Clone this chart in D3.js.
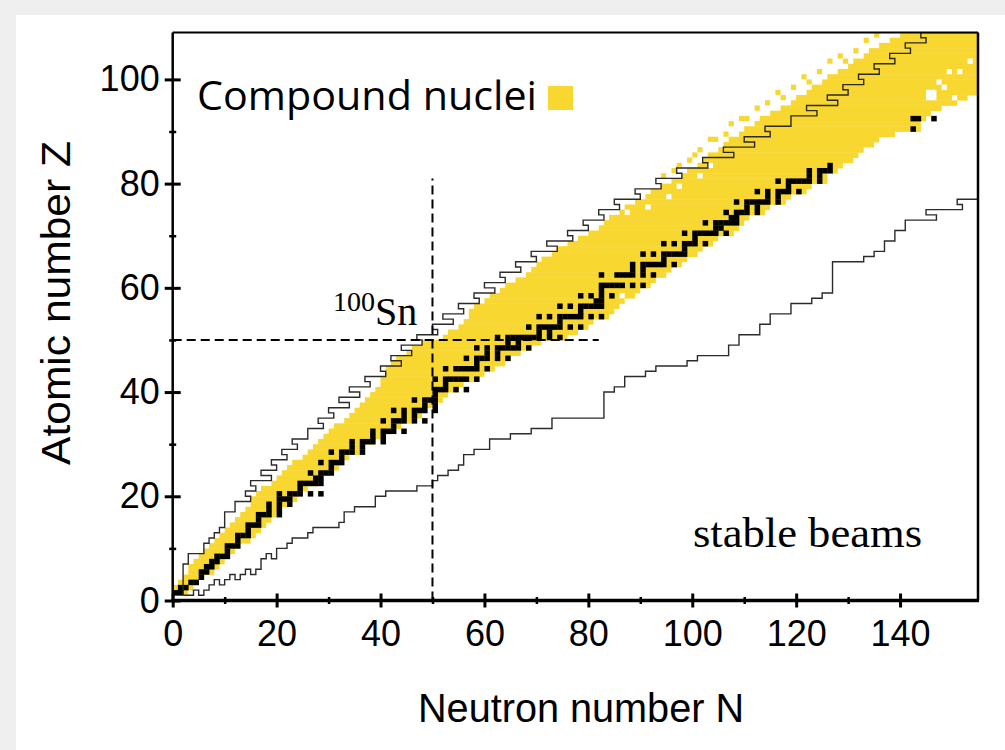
<!DOCTYPE html>
<html>
<head>
<meta charset="utf-8">
<script src="https://cdn.jsdelivr.net/npm/d3@7"></script>
<style>
  body { margin: 0; background: #efefef; }
  #chart { position: absolute; left: 0; top: 0; }
</style>
</head>
<body>
<div id="chart"></div>
<script>
// ---- data ----
// rows Z = 1..108 : yellow band (compound nuclei), first and last N of each row
var bandMinN = [0,0,1,2,3,3,4,5,6,7, 8,9,10,11,12,13,14,15,15,16,
  17,19,20,21,22,23,25,26,27,28, 29,30,31,33,34,35,36,37,38,39,
  40,40,41,41,42,43,45,46,48,52, 53,55,56,57,57,58,60,61,63,64,
  66,68,69,70,71,73,74,76,78,80, 82,83,84,86,87,89,91,92,94,96,
  98,99,101,102,103,105,106,107,109,110, 112,113,115,117,119,120,122,123,125,126,
  128,130,131,133,134,136,138,140];
var bandMaxN = [2,3,4,5,7,8,9,10,11,12, 14,15,16,17,18,19,20,21,23,24,
  25,27,28,29,31,32,33,35,36,38, 39,41,43,45,47,48,50,51,52,54,
  55,58,59,61,63,64,66,68,70,75, 77,79,80,83,84,85,86,88,89,91,
  92,94,95,97,98,100,101,103,104,107, 108,109,110,113,114,117,118,121,122,125,
  125,127,128,130,131,132,134,135,138,143, 143,144,145,147,150,152,154,155,155,155,
  155,155,155,155,155,155,155,155];
// isolated yellow cells beyond the band edge [N, Z]
var bandExtra = [[94,81],[96,82],[97,83],[99,84],[100,85],[101,86],[103,88],[104,88],[106,89],
  [107,91],[109,92],[110,92],[112,94],[114,95],[117,96],[116,97],[119,98],[122,99],[121,100],
  [124,101],[126,103],[129,103],[128,104],[131,105],[136,106],[133,107],[135,108]];
// white gaps inside the band [N, Z]
var bandHoles = [[86,58],[87,74],[91,75],[95,77],[97,79],[101,81],[103,83],
  [145,96],[146,96],[150,96],[145,97],[146,97],[148,98],[147,99],[149,101],[151,101],[153,103]];

// stable nuclei: neutron numbers for Z = 1..83
var stableNByZ = [[0,1],[1,2],[3,4],[5],[5,6],[6,7],[7,8],[8,9,10],[10],[10,11,12],
  [12],[12,13,14],[14],[14,15,16],[16],[16,17,18,20],[18,20],[18,20,22],[20,21,22],[20,22,23,24,26,28],
  [24],[24,25,26,27,28],[27,28],[26,28,29,30],[30],[28,30,31,32],[32],[30,32,33,34,36],[34,36],[34,36,37,38,40],
  [38,40],[38,40,41,42,44],[42],[40,42,43,44,46,48],[44,46],[42,44,46,47,48,50],[48,50],[46,48,49,50],[50],[50,51,52,54,56],
  [52],[50,52,53,54,55,56,58],[],[52,54,55,56,57,58,60],[58],[56,58,59,60,62,64],[60,62],[58,60,62,63,64,65,66,68],[64,66],[62,64,65,66,67,68,69,70,72,74],
  [70,72],[68,70,71,72,73,74,76,78],[74],[70,72,74,75,76,77,78,80,82],[78],[74,76,78,79,80,81,82],[81,82],[78,80,82,84],[82],[82,83,84,85,86,88,90],
  [],[82,85,86,87,88,90,92],[88,90],[88,90,91,92,93,94,96],[94],[90,92,94,95,96,97,98],[98],[94,96,98,99,100,102],[100],[98,100,101,102,103,104,106],
  [104,105],[102,104,105,106,107,108],[107,108],[106,108,109,110,112],[110,112],[108,110,111,112,113,114,116],[114,116],[112,114,116,117,118,120],[118],[116,118,119,120,121,122,124],
  [122,124],[122,124,125,126],[126]];
var actinideCells = [[142,90],[142,92],[143,92],[146,92]];

// upper staircase: left edge N of each row Z = 1..108
var edgeN = [2,2,2,2,2,2,3,3,6,6, 7,8,9,10,10,10,12,12,15,14,
  16,15,19,17,20,19,22,21,24,23, 26,26,29,28,31,30,34,32,36,34,
  38,37,41,40,44,42,46,44,48,47, 51,50,54,52,56,55,59,58,62,60,
  64,63,67,66,70,69,74,72,77,76, 80,79,83,82,86,85,90,89,94,93,
  98,97,103,102,108,106,112,110,115,114, 119,119,124,122,128,126,130,129,133,132,
  136,135,139,138,142,141,145,144];

// lower staircase ("stable beams"): step vertices
var beamN = [2,4,5,6,7,8,9,10,11,12,13,14,15,16,17,18,19,20,22,23,26,27,32,33,35,39,41,47,50,51,53,55,56,58,
  61,65,69,73,83,85,87,91,93,99,101,107,109,113,115,119,123,125,127,133,135,137,139,141,147,145,152,151,155];
var beamZ = [1,2,1,2,3,4,3,4,5,4,5,6,5,6,8,9,8,10,11,12,13,14,15,17,18,20,21,22,23,24,25,26,28,29,
  31,32,33,35,40,41,43,44,45,46,47,49,51,53,55,57,58,59,65,66,67,69,71,73,74,75,76,77,77];

var snN = 50, snZ = 50, snLineN = 82, snLineZ = 81;

var xMajor = [0,20,40,60,80,100,120,140];
var xMinor = [10,30,50,70,90,110,130];
var yMajor = [0,20,40,60,80,100];
var yMinor = [10,30,50,70,90];

// ---- layout ----
var svgWidth = 1005;
var svgHeight = 750;
var chartMargin = { top: 32.5, right: 27, bottom: 149.5, left: 172.7 };
var chartWidth = svgWidth - chartMargin.left - chartMargin.right;
var chartHeight = svgHeight - chartMargin.top - chartMargin.bottom;

var yellow = "#f8d731";

var svg = d3.select("#chart").append("svg")
    .attr("width", svgWidth)
    .attr("height", svgHeight);

// white card on the grey page
svg.append("rect")
    .attr("x", 16).attr("y", 15)
    .attr("width", svgWidth - 16).attr("height", svgHeight - 15)
    .attr("fill", "#ffffff");

var chartGroup = svg.append("g")
    .attr("transform", `translate(${chartMargin.left}, ${chartMargin.top})`);

svg.append("clipPath").attr("id", "plotClip")
  .append("rect").attr("width", chartWidth).attr("height", chartHeight);

var x = d3.scaleLinear().domain([0, 155]).range([0, chartWidth]);
var y = d3.scaleLinear().domain([0, 109]).range([chartHeight, 0]);
var cw = x(1) - x(0), ch = y(0) - y(1);

var plot = chartGroup.append("g").attr("clip-path", "url(#plotClip)");

// yellow band, one strip per row
var rows = bandMinN.map((n, i) => ({ Z: i + 1, n0: n, n1: bandMaxN[i] }));
plot.append("g").selectAll("rect")
    .data(rows)
    .enter().append("rect")
    .attr("x", d => x(d.n0))
    .attr("y", d => y(d.Z + 1))
    .attr("width", d => x(d.n1 + 1) - x(d.n0))
    .attr("height", ch + 0.4)
    .attr("fill", yellow);

plot.append("g").selectAll("rect")
    .data(bandExtra)
    .enter().append("rect")
    .attr("x", d => x(d[0]))
    .attr("y", d => y(d[1] + 1))
    .attr("width", cw).attr("height", ch)
    .attr("fill", yellow);

plot.append("g").selectAll("rect")
    .data(bandHoles)
    .enter().append("rect")
    .attr("x", d => x(d[0]))
    .attr("y", d => y(d[1] + 1))
    .attr("width", cw).attr("height", ch)
    .attr("fill", "#ffffff");

// stable nuclei
var stableCells = [];
stableNByZ.forEach((ns, i) => ns.forEach(n => stableCells.push([n, i + 1])));
stableCells = stableCells.concat(actinideCells);
plot.append("g").selectAll("rect")
    .data(stableCells)
    .enter().append("rect")
    .attr("x", d => x(d[0]))
    .attr("y", d => y(d[1] + 1))
    .attr("width", cw + 0.3).attr("height", ch + 0.3)
    .attr("fill", "#000000");

// upper staircase (left edge of each row)
var edgePts = [];
edgeN.forEach((n, i) => { edgePts.push([n, i + 1]); edgePts.push([n, i + 2]); });
edgePts.push([155, 109]);
var line = d3.line().x(d => x(d[0])).y(d => y(d[1]));
plot.append("path")
    .attr("d", line(edgePts))
    .attr("fill", "none")
    .attr("stroke", "#2b2b2b")
    .attr("stroke-width", 1.4);

// lower staircase
var beamPts = beamN.map((n, i) => [n, beamZ[i]]);
plot.append("path")
    .attr("d", d3.line().curve(d3.curveStepAfter).x(d => x(d[0])).y(d => y(d[1]))(beamPts))
    .attr("fill", "none")
    .attr("stroke", "#2b2b2b")
    .attr("stroke-width", 1.4);

// 100Sn guide lines
chartGroup.append("line")
    .attr("x1", x(0)).attr("x2", x(snLineN))
    .attr("y1", y(snZ)).attr("y2", y(snZ))
    .attr("stroke", "#000").attr("stroke-width", 2).attr("stroke-dasharray", "9,5");
chartGroup.append("line")
    .attr("x1", x(snN)).attr("x2", x(snN))
    .attr("y1", y(0)).attr("y2", y(snLineZ))
    .attr("stroke", "#000").attr("stroke-width", 2).attr("stroke-dasharray", "9,5");

// frame
chartGroup.append("line").attr("x1", 0).attr("x2", chartWidth).attr("y1", 0).attr("y2", 0)
    .attr("stroke", "#000").attr("stroke-width", 2);
chartGroup.append("line").attr("x1", chartWidth).attr("x2", chartWidth).attr("y1", 0).attr("y2", chartHeight)
    .attr("stroke", "#000").attr("stroke-width", 2.5);
chartGroup.append("line").attr("x1", 0).attr("x2", 0).attr("y1", 0).attr("y2", chartHeight)
    .attr("stroke", "#000").attr("stroke-width", 2.5);
chartGroup.append("line").attr("x1", -1).attr("x2", chartWidth + 1).attr("y1", chartHeight).attr("y2", chartHeight)
    .attr("stroke", "#000").attr("stroke-width", 3.5);

// axes (ticks cross the axis line)
var tickFont = "'Liberation Sans', Arial, sans-serif";
var xAxis = chartGroup.append("g")
    .attr("transform", "translate(0," + chartHeight + ")")
    .call(d3.axisBottom(x).tickValues(xMajor).tickSize(7).tickPadding(13));
xAxis.selectAll(".tick line").attr("y1", -7).attr("stroke-width", 3);
var xMin = chartGroup.append("g")
    .attr("transform", "translate(0," + chartHeight + ")")
    .call(d3.axisBottom(x).tickValues(xMinor).tickSize(3.5).tickFormat(""));
xMin.selectAll(".tick line").attr("y1", -3.5).attr("stroke-width", 2.5);

var yAxis = chartGroup.append("g")
    .call(d3.axisLeft(y).tickValues(yMajor).tickSize(8).tickPadding(5));
yAxis.selectAll(".tick line").attr("x1", 8).attr("stroke-width", 3);
var yMin = chartGroup.append("g")
    .call(d3.axisLeft(y).tickValues(yMinor).tickSize(3.5).tickFormat(""));
yMin.selectAll(".tick line").attr("x1", 3.5).attr("stroke-width", 2.5);

chartGroup.selectAll(".domain").remove();
chartGroup.selectAll(".tick text")
    .style("font-family", tickFont)
    .style("font-size", "36px")
    .attr("fill", "#000");

// axis titles
svg.append("text")
    .attr("x", 581).attr("y", 722)
    .attr("text-anchor", "middle")
    .attr("textLength", 326).attr("lengthAdjust", "spacingAndGlyphs")
    .style("font-family", tickFont).style("font-size", "40px")
    .text("Neutron number N");
svg.append("text")
    .attr("transform", "rotate(-90)")
    .attr("x", -303).attr("y", 70)
    .attr("text-anchor", "middle")
    .attr("textLength", 324).attr("lengthAdjust", "spacingAndGlyphs")
    .style("font-family", tickFont).style("font-size", "40px")
    .text("Atomic number Z");

// legend
svg.append("text")
    .attr("x", 197).attr("y", 110)
    .attr("textLength", 340).attr("lengthAdjust", "spacingAndGlyphs")
    .style("font-family", "'Open Sans', 'Noto Sans', sans-serif").style("font-size", "41px")
    .text("Compound nuclei");
svg.append("rect")
    .attr("x", 548).attr("y", 86).attr("width", 25).attr("height", 24)
    .attr("fill", yellow);

// annotations
var snLabel = svg.append("text")
    .attr("x", 333).attr("y", 325)
    .style("font-family", "'Liberation Serif', 'Times New Roman', serif");
snLabel.append("tspan").attr("dy", -14).style("font-size", "28px").text("100");
snLabel.append("tspan").attr("dy", 14).style("font-size", "40px").text("Sn");

svg.append("text")
    .attr("x", 693).attr("y", 547)
    .attr("textLength", 229).attr("lengthAdjust", "spacingAndGlyphs")
    .style("font-family", "'Liberation Serif', 'Times New Roman', serif")
    .style("font-size", "43px")
    .text("stable beams");
</script>
</body>
</html>
